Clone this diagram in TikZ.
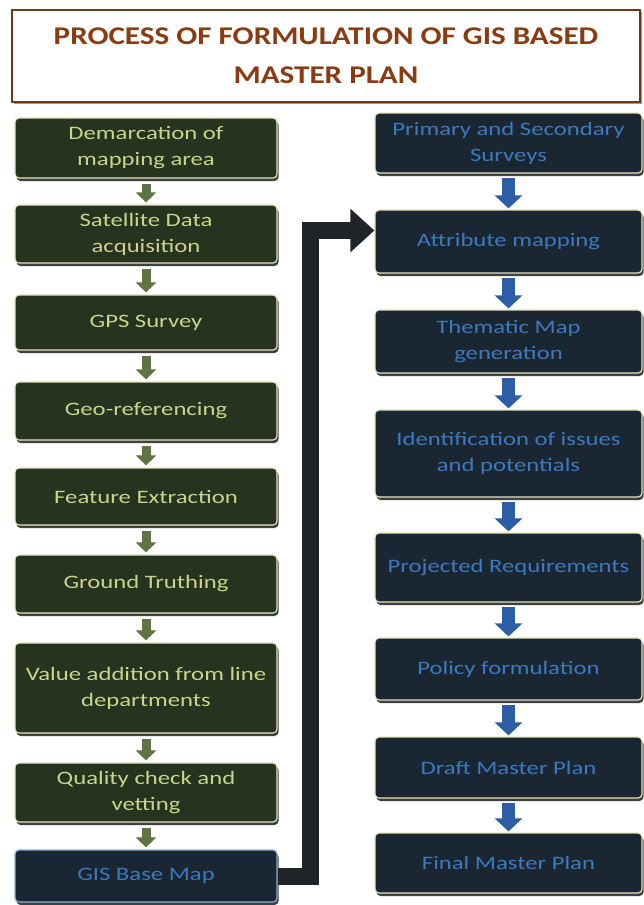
\documentclass[tikz,border=0pt]{standalone}
\usepackage{fontspec}
\setmainfont{Carlito}[FakeStretch=1.3]
\newfontfamily\titlefont{Carlito}[FakeStretch=1.22]
\usetikzlibrary{arrows.meta,shadows,calc}
\definecolor{gfill}{HTML}{26331F}
\definecolor{gtext}{HTML}{C8D58C}
\definecolor{bfill}{HTML}{1B2633}
\definecolor{btext}{HTML}{3C79BE}
\definecolor{garrow}{HTML}{5E7444}
\definecolor{barrow}{HTML}{2D5DA6}
\definecolor{ttl}{HTML}{8A3B12}
\definecolor{ttlborder}{HTML}{6B3A1C}
\definecolor{conn}{HTML}{1F2429}
\definecolor{edgecol}{HTML}{E2E4C0}
\tikzset{
 card/.style={rounded corners=4pt, draw=edgecol, line width=1.2pt, align=center,
   font=\fontsize{19}{26}\selectfont, inner sep=2pt,
   drop shadow={shadow xshift=1.5pt, shadow yshift=-3pt, fill=black, opacity=0.75}},
 gbox/.style={card, fill=gfill, text=gtext, minimum width=262pt},
 bbox/.style={card, fill=bfill, text=btext, minimum width=267pt},
 navybox/.style={card, fill=bfill, text=btext, minimum width=262pt, draw=btext!60},
 garr/.style={draw=garrow, line width=9pt, -{Triangle[width=20pt,length=10pt]}, shorten <=5pt, shorten >=2pt},
 barr/.style={draw=barrow, line width=13pt, -{Triangle[width=27pt,length=13pt]}, shorten <=4pt, shorten >=1pt},
 bigconn/.style={draw=conn, line width=17pt, line join=miter, -{Triangle[width=42pt,length=24pt]}},
 titlebox/.style={draw=ttlborder, line width=2.5pt, fill=white, align=center, text=ttl,
   font=\titlefont\fontsize{25.5}{39}\selectfont\bfseries, minimum width=628pt, minimum height=92pt,
   drop shadow={shadow xshift=2pt, shadow yshift=-2pt, fill=black, opacity=0.4}}
}
\begin{document}
\begin{tikzpicture}[x=1pt,y=-1pt]
\useasboundingbox (0,0) rectangle (644,905);
\fill[white] (0,0) rectangle (644,905);
\node[titlebox] (title) at (326,56) {PROCESS OF FORMULATION OF GIS BASED\\MASTER PLAN};
% left column
\node[gbox, minimum height=60pt] (l1) at (146,148) {Demarcation of\\mapping area};
\node[gbox, minimum height=58pt] (l2) at (146,234) {Satellite Data\\acquisition};
\node[gbox, minimum height=55pt] (l3) at (146,322.5) {GPS Survey};
\node[gbox, minimum height=58pt] (l4) at (146,411) {Geo-referencing};
\node[gbox, minimum height=57pt] (l5) at (146,496.5) {Feature Extraction};
\node[gbox, minimum height=58pt] (l6) at (146,584) {Ground Truthing};
\node[gbox, minimum height=90pt] (l7) at (146,688) {Value addition from line\\departments};
\node[gbox, minimum height=59pt] (l8) at (146,792.5) {Quality check and\\vetting};
\node[navybox, minimum height=52pt] (l9) at (146,876) {GIS Base Map};
% right column
\node[bbox, minimum height=60pt] (r1) at (508.5,143) {Primary and Secondary\\Surveys};
\node[bbox, minimum height=63pt] (r2) at (508.5,241.5) {Attribute mapping};
\node[bbox, minimum height=63pt] (r3) at (508.5,341.5) {Thematic Map\\generation};
\node[bbox, minimum height=87pt] (r4) at (508.5,453.5) {Identification of issues\\and potentials};
\node[bbox, minimum height=69pt] (r5) at (508.5,567.5) {Projected Requirements};
\node[bbox, minimum height=62pt] (r6) at (508.5,669) {Policy formulation};
\node[bbox, minimum height=61pt] (r7) at (508.5,767.5) {Draft Master Plan};
\node[bbox, minimum height=60pt] (r8) at (508.5,863) {Final Master Plan};
% arrows
\foreach \a/\b in {l1/l2,l2/l3,l3/l4,l4/l5,l5/l6,l6/l7,l7/l8,l8/l9}
  \draw[garr] (\a.south) -- (\b.north);
\foreach \a/\b in {r1/r2,r2/r3,r3/r4,r4/r5,r5/r6,r6/r7,r7/r8}
  \draw[barr] (\a.south) -- (\b.north);
\draw[bigconn] (l9.east) -- ++(33,0) |- ($(r2.west)+(0,-11)$);
\end{tikzpicture}
\end{document}
